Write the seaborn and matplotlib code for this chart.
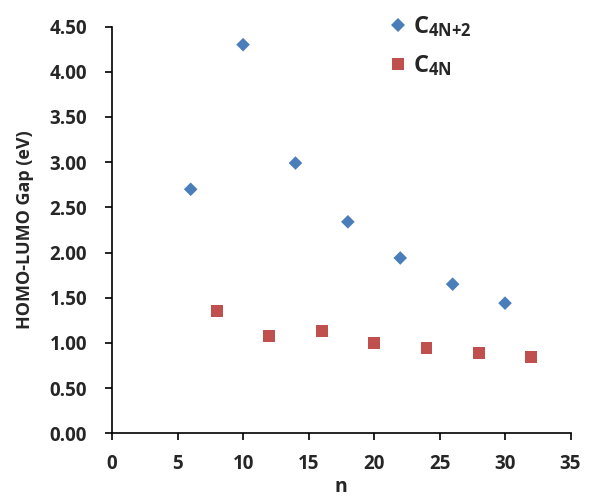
import pandas as pd
import numpy as np
import matplotlib
matplotlib.use("Agg")
import matplotlib.pyplot as plt
import seaborn as sns

# data
n_4n2 = [6, 10, 14, 18, 22, 26, 30]
gap_4n2 = [2.70, 4.30, 2.99, 2.34, 1.94, 1.65, 1.44]
n_4n = [8, 12, 16, 20, 24, 28, 32]
gap_4n = [1.35, 1.08, 1.13, 1.00, 0.94, 0.89, 0.84]
series_names = [r"$\mathbf{C_{4N{+}2}}$", r"$\mathbf{C_{4N}}$"]
x_ticks = [0, 5, 10, 15, 20, 25, 30, 35]
y_ticks = [0.0, 0.5, 1.0, 1.5, 2.0, 2.5, 3.0, 3.5, 4.0, 4.5]

sns.set_style("white")
plt.rcParams["font.family"] = ["Open Sans", "DejaVu Sans"]
plt.rcParams["mathtext.fontset"] = "custom"
plt.rcParams["mathtext.rm"] = "Open Sans"
plt.rcParams["mathtext.bf"] = "Open Sans:bold"

df = pd.DataFrame({
    "n": n_4n2 + n_4n,
    "gap": gap_4n2 + gap_4n,
    "series": [series_names[0]] * len(n_4n2) + [series_names[1]] * len(n_4n),
})

fig = plt.figure(figsize=(5.9, 4.96), dpi=100)
ax = fig.add_axes([0.19, 0.1264, 0.777, 0.820])

sns.scatterplot(data=df, x="n", y="gap", hue="series", style="series", size="series",
                palette={series_names[0]: "#4A7EBB", series_names[1]: "#C0504D"},
                markers={series_names[0]: "D", series_names[1]: "s"},
                sizes={series_names[0]: 48, series_names[1]: 72},
                linewidth=0, ax=ax)

ax.set_xlim(0, 35)
ax.set_ylim(0, 4.5)
ax.set_xticks(x_ticks)
ax.set_yticks(y_ticks)
ax.set_yticklabels([f"{v:.2f}" for v in y_ticks])
ax.tick_params(axis="both", direction="out", length=5, width=1.2, color="black",
               labelsize=13.5, bottom=True, left=True)
ax.tick_params(axis="x", pad=10)
ax.tick_params(axis="y", pad=13)
for lab in ax.get_xticklabels() + ax.get_yticklabels():
    lab.set_fontweight("bold")

for side in ["top", "right"]:
    ax.spines[side].set_visible(False)
for side in ["left", "bottom"]:
    ax.spines[side].set_color("black")
    ax.spines[side].set_linewidth(1.2)

ax.set_xlabel("n", fontsize=14, fontweight="bold", labelpad=2)
ax.set_ylabel("HOMO-LUMO Gap (eV)", fontsize=13, fontweight="bold", labelpad=11)

handles, labels = ax.get_legend_handles_labels()
ax.legend(handles, labels, loc="upper left", bbox_to_anchor=(372 / 590, 1.0),
          bbox_transform=fig.transFigure, frameon=False, fontsize=17,
          borderpad=0.1, handlelength=1.0, handletextpad=0.15, labelspacing=0.6)

fig.savefig("out.png", dpi=100)
